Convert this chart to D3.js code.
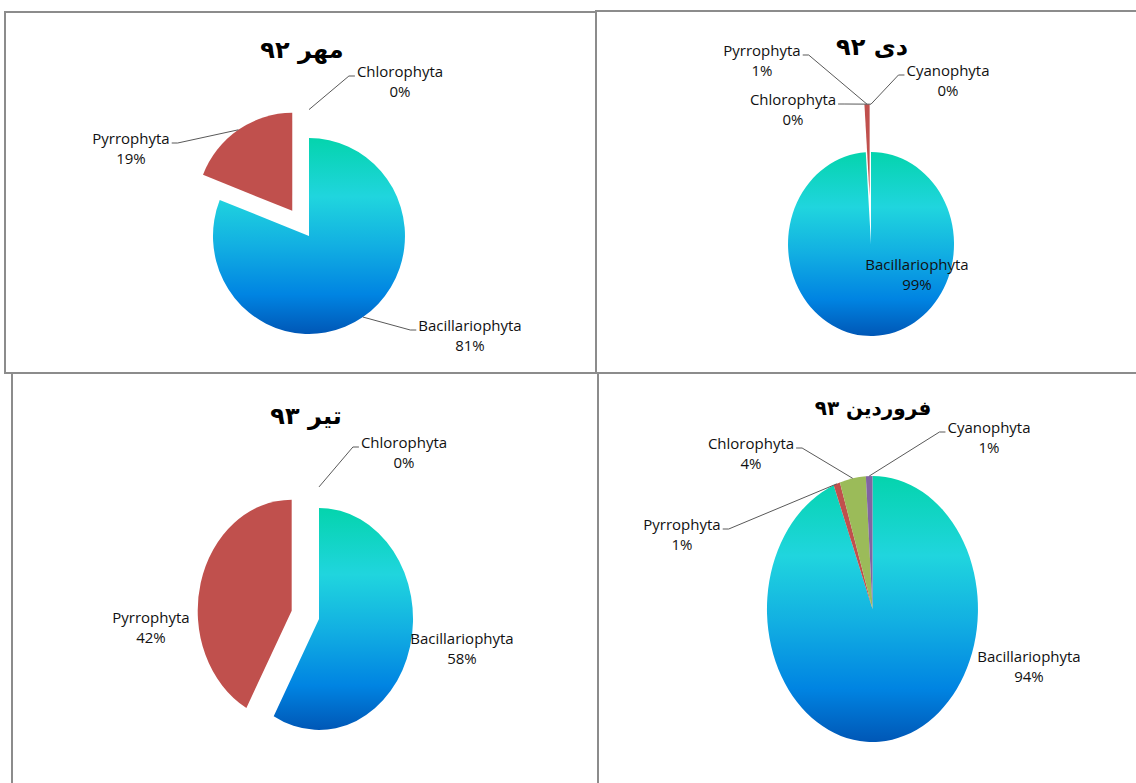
<!DOCTYPE html>
<html>
<head>
<meta charset="utf-8">
<script src="https://cdn.jsdelivr.net/npm/d3@7"></script>
<style>
  body { margin: 0; background: #fff; }
  svg { display: block; }
</style>
</head>
<body>
<div class="charts"></div>
<script>
// data
var categories = ['Bacillariophyta', 'Pyrrophyta', 'Chlorophyta', 'Cyanophyta'];
var chartTitles = ['مهر ۹۲', 'دی ۹۲', 'تیر ۹۳', 'فروردین ۹۳'];
var mehr92 = [81, 19, 0];
var dey92 = [99, 1, 0, 0];
var tir93 = [58, 42, 0];
var farvardin93 = [94, 1, 4, 1];

var width = 1136,
    height = 783,
    labelFont = '"Liberation Sans Narrow", "Open Sans", sans-serif',
    titleFont = '"DejaVu Sans", sans-serif';

var svg = d3.select('.charts').append('svg')
  .attr('width', width)
  .attr('height', height);

// vertical gradient used by the Bacillariophyta slice
var grad = svg.append('defs').append('linearGradient')
  .attr('id', 'bacGrad')
  .attr('x1', 0).attr('y1', 0).attr('x2', 0).attr('y2', 1);
[[0, '#04d4ad'], [0.3, '#20d5de'], [0.55, '#12afe2'], [0.8, '#0084e2'], [1, '#0057b6']]
  .forEach(function(s) {
    grad.append('stop').attr('offset', s[0]).attr('stop-color', s[1]);
  });

var sliceColor = d3.scaleOrdinal()
  .domain(categories)
  .range(['url(#bacGrad)', '#c0504d', '#9bbb59', '#8064a2']);

/*
  layout of each panel: frame, title, ellipse and label anchors
  (label y is the middle of the first line)
 **/
var panels = [
  { title: chartTitles[0], values: mehr92,
    frame: [5, 12, 596, 373], titleX: 302, titleY: 58, titleSize: 24,
    cx: 309, cy: 236, rx: 96, ry: 98, explode: [0, 0.31, 0.29],
    labels: [{x: 470, y: 326, leader: 'left'},
             {x: 131, y: 139, leader: 'right'},
             {x: 400, y: 72, leader: 'left'}] },
  { title: chartTitles[1], values: dey92,
    frame: [596, 11, 1140, 373], titleX: 872, titleY: 55, titleSize: 24,
    cx: 871, cy: 244, rx: 83, ry: 92, explode: [0, 0.52, 0.52, 0.52],
    labels: [{x: 917, y: 265, leader: null},
             {x: 762, y: 51, leader: 'right'},
             {x: 793, y: 100, leader: 'right'},
             {x: 948, y: 71, leader: 'left'}] },
  { title: chartTitles[2], values: tir93,
    frame: [12, 373, 598, 790], titleX: 306, titleY: 424, titleSize: 24,
    cx: 319, cy: 619, rx: 94, ry: 111, explode: [0, 0.3, 0.19],
    labels: [{x: 462, y: 639, leader: null},
             {x: 151, y: 618, leader: null},
             {x: 404, y: 443, leader: 'left'}] },
  { title: chartTitles[3], values: farvardin93,
    frame: [598, 373, 1140, 790], titleX: 873, titleY: 415, titleSize: 20,
    cx: 872.5, cy: 609, rx: 105.5, ry: 133, explode: [0, 0, 0, 0],
    labels: [{x: 1029, y: 657, leader: null},
             {x: 682, y: 525, leader: 'right'},
             {x: 751, y: 444, leader: 'right'},
             {x: 989, y: 428, leader: 'left'}] }
];

var pie = d3.pie().sort(null).value(function(d) { return d.value; });
var arc = d3.arc().innerRadius(0).outerRadius(1);

function drawPanel(p) {
  var g = svg.append('g').attr('class', 'panel');
  var f = p.frame;

  g.append('rect')
    .attr('x', f[0]).attr('y', f[1])
    .attr('width', f[2] - f[0]).attr('height', f[3] - f[1])
    .attr('fill', 'none')
    .attr('stroke', '#8c8c8c')
    .attr('stroke-width', 2);

  g.append('text')
    .attr('x', p.titleX).attr('y', p.titleY)
    .attr('text-anchor', 'middle')
    .attr('direction', 'rtl')
    .style('font-family', titleFont)
    .style('font-weight', 'bold')
    .style('font-size', p.titleSize + 'px')
    .text(p.title);

  var total = d3.sum(p.values);
  var arcs = pie(p.values.map(function(v, i) {
    return {name: categories[i], value: v};
  }));

  // explode offsets along the middle angle, in ellipse units
  arcs.forEach(function(a, i) {
    var mid = (a.startAngle + a.endAngle) / 2,
        ex = p.explode[i] || 0;
    a.mid = mid;
    a.ex = ex;
    a.dx = Math.sin(mid) * ex * p.rx;
    a.dy = -Math.cos(mid) * ex * p.ry;
  });

  g.append('g').attr('class', 'slices')
    .selectAll('path')
    .data(arcs.filter(function(a) { return a.value > 0; }))
    .enter().append('path')
      .attr('transform', function(a) {
        return 'translate(' + (p.cx + a.dx) + ',' + (p.cy + a.dy) + ') scale(' + p.rx + ',' + p.ry + ')';
      })
      .attr('d', arc)
      .attr('fill', function(a) { return sliceColor(a.data.name); });

  var lg = g.append('g').attr('class', 'labels');
  arcs.forEach(function(a, i) {
    var lab = p.labels[i];
    var base = lab.y + 5;
    var t = lg.append('text')
      .attr('text-anchor', 'middle')
      .style('font-family', labelFont)
      .style('font-size', '15px')
      .attr('fill', '#111');
    var first = t.append('tspan').attr('x', lab.x).attr('y', base).text(a.data.name);
    t.append('tspan').attr('x', lab.x).attr('y', base + 20)
      .text(Math.round(a.value / total * 100) + '%');

    if (!lab.leader) return;
    var w = first.node().getComputedTextLength();
    var edge = lab.leader === 'left' ? lab.x - w / 2 - 2 : lab.x + w / 2 + 2,
        knee = lab.leader === 'left' ? edge - 6 : edge + 6,
        r = 1 + a.ex,
        sx = p.cx + Math.sin(a.mid) * r * p.rx,
        sy = p.cy - Math.cos(a.mid) * r * p.ry,
        ly = base - 1;
    lg.append('path')
      .attr('d', 'M' + sx + ',' + sy + 'L' + knee + ',' + ly + 'L' + edge + ',' + ly)
      .attr('fill', 'none')
      .attr('stroke', '#595959')
      .attr('stroke-width', 1);
  });
}

panels.forEach(drawPanel);
</script>
</body>
</html>
